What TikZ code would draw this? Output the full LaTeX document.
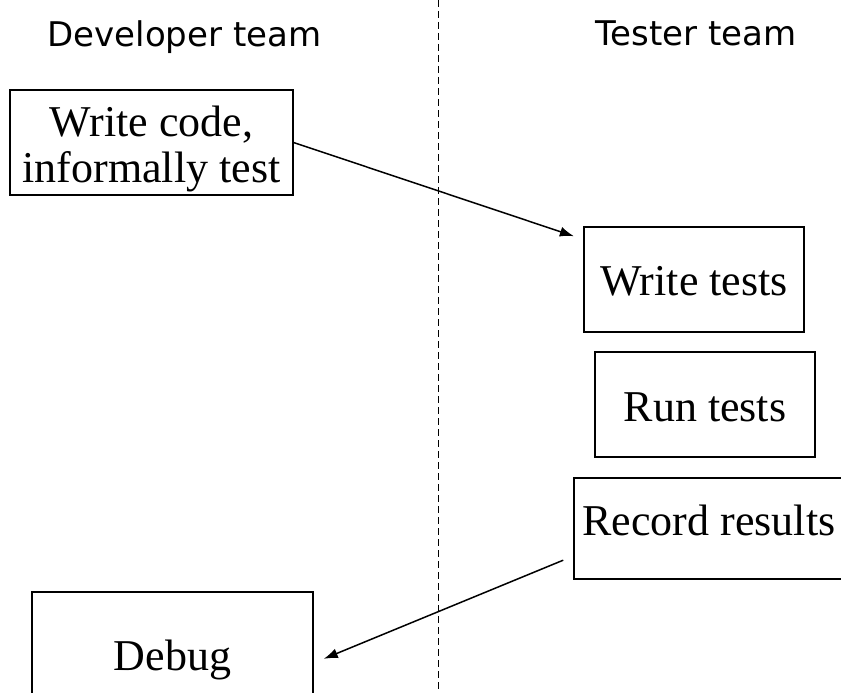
\documentclass[tikz,border=0pt]{standalone}
\usepackage{fontspec}
\setmainfont{Liberation Serif}
\newfontfamily\headfont{DejaVu Sans}
\usetikzlibrary{arrows.meta}
\begin{document}
\begin{tikzpicture}[x=1pt,y=-1pt,
  lane/.style={font=\headfont\fontsize{34}{38}\selectfont, anchor=base, inner sep=0pt},
  task/.style={draw, line width=1.2pt, inner sep=0pt, font=\fontsize{44}{46}\selectfont, align=center},
  flow/.style={line width=1.5pt, -{Latex[length=14pt,width=10pt]}},
  divider/.style={line width=0.9pt, dash pattern=on 7pt off 4pt}]
\useasboundingbox (0,0) rectangle (841,693);
\clip (0,0) rectangle (841,693);

% swimlane headings and divider
\node[lane] (dev) at (184.5,47) {Developer team};
\node[lane] (tst) at (696,46) {Tester team};
\coordinate (dtop) at (438,0);
\coordinate (dbot) at (438,693);
\draw[divider] (dtop) -- (dbot);

% activities
\node[task, minimum width=283pt, minimum height=105pt] (code) at (151.5,142.5)
  {\rule{0pt}{44pt}Write code,\\informally test};
\node[task, minimum width=220pt, minimum height=105pt, text height=31pt, text depth=0pt]
  (write) at (694,279.5) {Write tests};
\node[task, minimum width=220pt, minimum height=105pt, text height=33pt, text depth=0pt]
  (run) at (705,404.5) {Run tests};
\node[task, minimum width=270pt, minimum height=101pt, text height=30pt, text depth=17pt]
  (record) at (709,528.5) {Record results};
\node[task, minimum width=281pt, minimum height=136pt, text height=29pt, text depth=9pt]
  (debug) at (172.5,660) {Debug};

% hand-offs between teams
\draw[flow, shorten >=10pt] (code.east) -- ([yshift=-13pt]write.north west);
\draw[flow, shorten <=11pt, shorten >=11pt] ([yshift=-27.5pt]record.west) -- ([yshift=-3pt]debug.east);
\end{tikzpicture}
\end{document}
